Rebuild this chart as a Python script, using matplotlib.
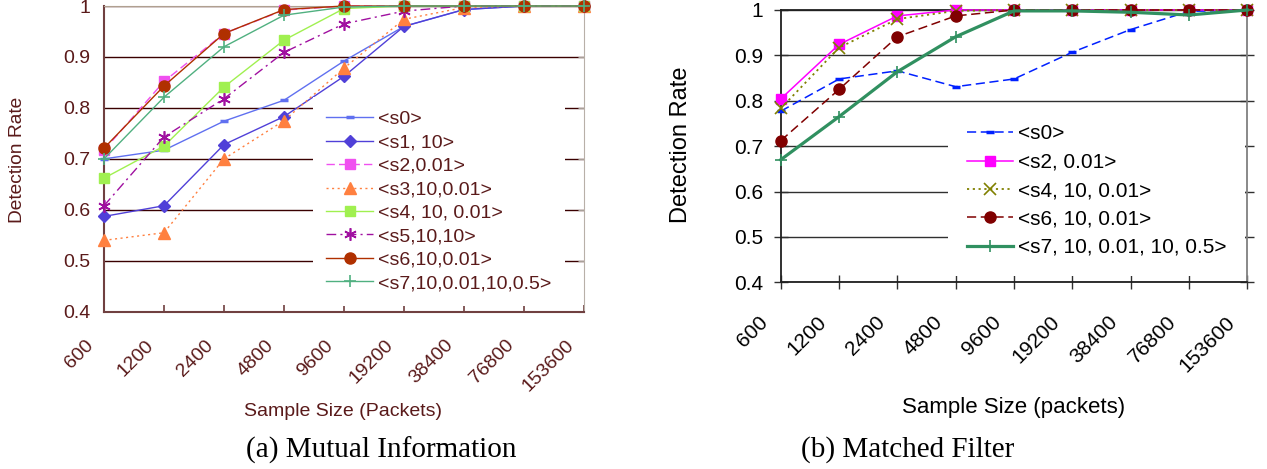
import matplotlib
matplotlib.use("Agg")
import matplotlib.pyplot as plt
import matplotlib.transforms as mtransforms

plt.rcParams['font.family'] = ['Liberation Sans', 'DejaVu Sans']

# sample sizes (categorical x axis)
sizes = ['600', '1200', '2400', '4800', '9600', '19200', '38400', '76800', '153600']

# (a) Mutual Information
mi_labels = ['<s0>', '<s1, 10>', '<s2,0.01>', '<s3,10,0.01>', '<s4, 10, 0.01>',
             '<s5,10,10>', '<s6,10,0.01>', '<s7,10,0.01,10,0.5>']
mi_s0 = [0.700, 0.717, 0.774, 0.815, 0.892, 0.960, 0.993, 1.0, 1.0]
mi_s1 = [0.587, 0.608, 0.728, 0.783, 0.862, 0.960, 0.993, 1.0, 1.0]
mi_s2 = [0.717, 0.852, 0.946, 0.992, 1.0, 1.0, 1.0, 1.0, 1.0]
mi_s3 = [0.540, 0.555, 0.700, 0.775, 0.878, 0.974, 0.997, 1.0, 1.0]
mi_s4 = [0.662, 0.725, 0.841, 0.933, 0.995, 1.0, 1.0, 1.0, 1.0]
mi_s5 = [0.608, 0.743, 0.818, 0.909, 0.965, 0.990, 1.0, 1.0, 1.0]
mi_s6 = [0.721, 0.843, 0.946, 0.993, 1.0, 1.0, 1.0, 1.0, 1.0]
mi_s7 = [0.700, 0.821, 0.920, 0.982, 0.998, 1.0, 1.0, 1.0, 1.0]

# (b) Matched Filter
mf_labels = ['<s0>', '<s2, 0.01>', '<s4, 10, 0.01>', '<s6, 10, 0.01>', '<s7, 10, 0.01, 10, 0.5>']
mf_s0 = [0.777, 0.848, 0.866, 0.831, 0.848, 0.907, 0.957, 0.997, 1.0]
mf_s2 = [0.804, 0.924, 0.987, 1.0, 1.0, 1.0, 1.0, 1.0, 1.0]
mf_s4 = [0.783, 0.917, 0.980, 0.998, 1.0, 1.0, 1.0, 1.0, 1.0]
mf_s6 = [0.712, 0.825, 0.941, 0.987, 1.0, 1.0, 1.0, 1.0, 1.0]
mf_s7 = [0.670, 0.765, 0.864, 0.941, 0.998, 0.998, 0.995, 0.989, 1.0]

BROWN = '#5a1a1a'
x = list(range(len(sizes)))

fig = plt.figure(figsize=(12.67, 4.69), dpi=100)
ax1 = fig.add_axes([0.08208, 0.3354, 0.37885, 0.6518])
ax2 = fig.add_axes([0.61618, 0.39808, 0.36827, 0.58060])

# ---------- left panel ----------
mi_styles = [
    dict(color='#6070f0', ls='-', marker='_', ms=6, mew=2.5),
    dict(color='#5040d8', ls='-', marker='D', ms=6),
    dict(color='#f050f0', ls=(0, (6, 3)), marker='s', ms=7),
    dict(color='#ff8040', ls=(0, (1.5, 2.5)), marker='^', ms=8),
    dict(color='#a0f050', ls='-', marker='s', ms=7),
    dict(color='#a010a0', ls=(0, (7, 3, 1.5, 3)), marker=(6, 2, 0), ms=9, mew=1.2),
    dict(color='#b03000', ls='-', marker='o', ms=8),
    dict(color='#50b080', ls='-', marker='+', ms=9, mew=1.2),
]
mi_series = [mi_s0, mi_s1, mi_s2, mi_s3, mi_s4, mi_s5, mi_s6, mi_s7]
for ys, lab, st in zip(mi_series, mi_labels, mi_styles):
    ax1.plot(x, ys, lw=1.0, label=lab, clip_on=False, zorder=3, **st)

ax1.set_xlim(0, 8)
ax1.set_ylim(0.4, 1.0)
ax1.set_yticks([0.4, 0.5, 0.6, 0.7, 0.8, 0.9, 1.0])
ax1.set_yticklabels(['0.4', '0.5', '0.6', '0.7', '0.8', '0.9', '1'])
ax1.set_xticks(x)
ax1.set_xticklabels(sizes, rotation=45, ha='right', va='top')
ax1.yaxis.grid(True, color='#3a0000', lw=1.0)
ax1.set_axisbelow(True)
for s in ['left', 'bottom']:
    ax1.spines[s].set_color('#704040')
    ax1.spines[s].set_linewidth(1.5)
ax1.spines['top'].set_color('#b0a090')
ax1.spines['right'].set_color('#b8b0a8')
ax1.tick_params(axis='x', direction='in', length=5, width=1.2, color='#704040',
                labelsize=14, labelcolor=BROWN, pad=18)
ax1.tick_params(axis='y', direction='in', left=False, right=True, length=4,
                color='#a8a098', labelsize=14, labelcolor=BROWN, pad=10)
off1 = mtransforms.ScaledTranslation(-7 / 100, 0, fig.dpi_scale_trans)
for lbl in ax1.get_xticklabels():
    lbl.set_transform(lbl.get_transform() + off1)

ax1.set_xlabel('Sample Size (Packets)', fontsize=14, color=BROWN, va='center')
ax1.xaxis.set_label_coords(0.498, -0.328)
ax1.set_ylabel('Detection Rate', fontsize=13.8, color=BROWN, va='center')
ax1.yaxis.set_label_coords(-0.181, 0.496)

leg1 = ax1.legend(loc='upper left', bbox_to_anchor=(0.4346, 0.703), borderaxespad=0,
                  fontsize=14, handlelength=2.42, handletextpad=0.22, labelspacing=0.3,
                  borderpad=0.7, frameon=True, fancybox=False, labelcolor=BROWN)
leg1.get_frame().set_facecolor('white')
leg1.get_frame().set_edgecolor('none')
leg1.get_frame().set_alpha(1)

# ---------- right panel ----------
mf_styles = [
    dict(color='#0020ff', ls=(0, (6, 3)), marker='_', ms=6, mew=2.5, lw=1.1),
    dict(color='#ff00ff', ls='-', marker='s', ms=6.5, lw=1.1),
    dict(color='#808000', ls=(0, (1.2, 2)), marker='x', ms=8, mew=1.2, lw=1.3),
    dict(color='#800000', ls=(0, (6, 3)), marker='o', ms=8, lw=1.1),
    dict(color='#309060', ls='-', marker='+', ms=9, mew=1.2, lw=2.3),
]
mf_series = [mf_s0, mf_s2, mf_s4, mf_s6, mf_s7]
for ys, lab, st in zip(mf_series, mf_labels, mf_styles):
    ax2.plot(x, ys, label=lab, clip_on=False, zorder=3, **st)

ax2.set_xlim(0, 8)
ax2.set_ylim(0.4, 1.0)
ax2.set_yticks([0.4, 0.5, 0.6, 0.7, 0.8, 0.9, 1.0])
ax2.set_yticklabels(['0.4', '0.5', '0.6', '0.7', '0.8', '0.9', '1'])
ax2.set_xticks(x)
ax2.set_xticklabels(sizes, rotation=45, ha='right', va='top')
ax2.yaxis.grid(True, color='#303030', lw=1.0)
ax2.set_axisbelow(True)
for s in ['left', 'bottom', 'top']:
    ax2.spines[s].set_color('#202020')
    ax2.spines[s].set_linewidth(1.3)
ax2.spines['right'].set_color('#808080')
ax2.spines['right'].set_linewidth(1.3)
ax2.tick_params(axis='x', direction='inout', length=9.4, width=1.0, color='#303030',
                labelsize=15, pad=17)
ax2.tick_params(axis='y', direction='inout', length=9.4, width=1.0, color='#303030',
                right=True, labelsize=15, pad=8)
off2 = mtransforms.ScaledTranslation(-9 / 100, 0, fig.dpi_scale_trans)
for lbl in ax2.get_xticklabels():
    lbl.set_transform(lbl.get_transform() + off2)

ax2.set_xlabel('Sample Size (packets)', fontsize=16, va='center')
ax2.xaxis.set_label_coords(0.4994, -0.458)
ax2.set_ylabel('Detection Rate', fontsize=17, va='center')
ax2.yaxis.set_label_coords(-0.2137, 0.504)

leg2 = ax2.legend(loc='upper left', bbox_to_anchor=(0.3585, 0.6485), borderaxespad=0,
                  fontsize=15, handlelength=2.24, handletextpad=0.2, labelspacing=0.45,
                  borderpad=0.9, frameon=True, fancybox=False)
leg2.get_frame().set_facecolor('white')
leg2.get_frame().set_edgecolor('none')
leg2.get_frame().set_alpha(1)

# captions
fig.text(381.5 / 1267, 1 - 450 / 469, '(a) Mutual Information', ha='center', va='center',
         fontsize=21, family=['Liberation Serif', 'DejaVu Serif'])
fig.text(907.5 / 1267, 1 - 450 / 469, '(b) Matched Filter', ha='center', va='center',
         fontsize=21, family=['Liberation Serif', 'DejaVu Serif'])

fig.savefig('out.png', dpi=100)
